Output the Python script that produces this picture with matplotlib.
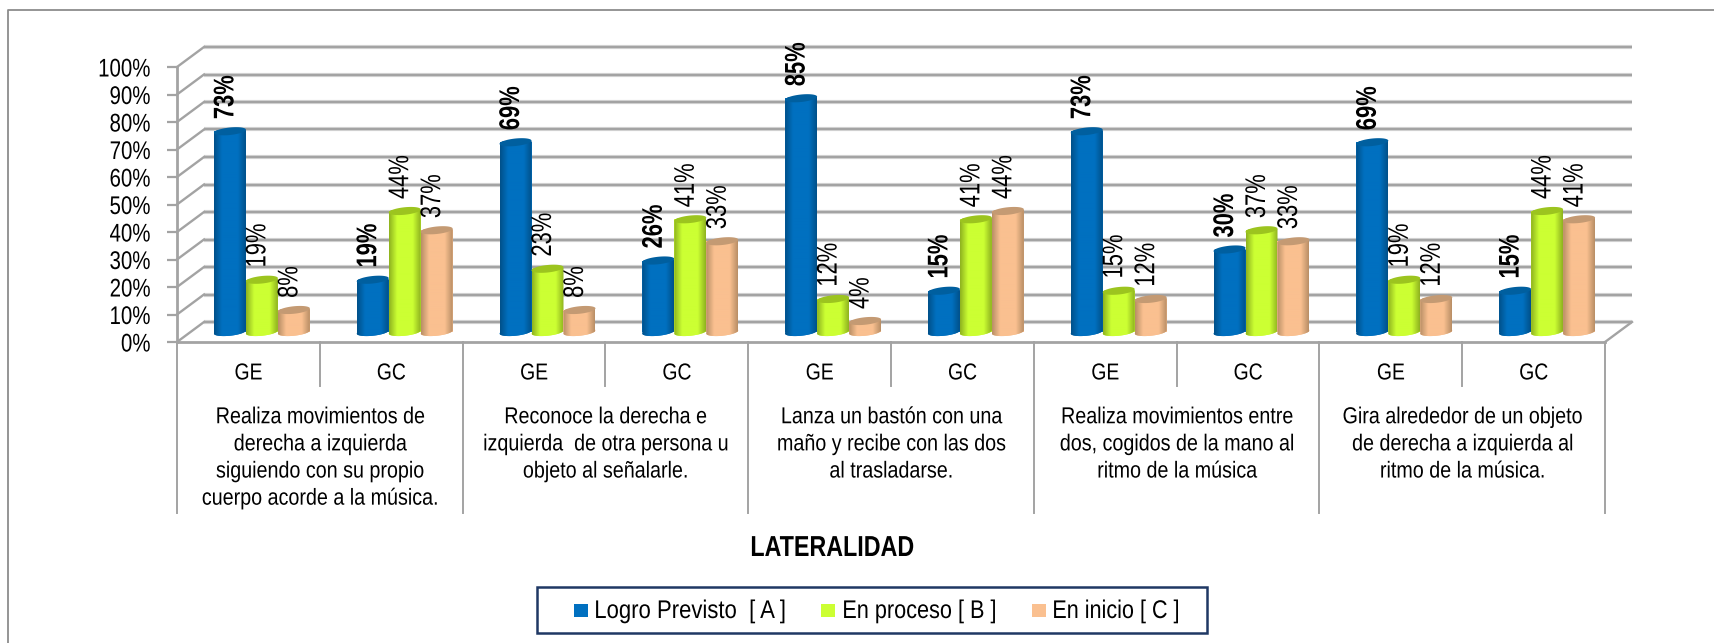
import numpy as np
import matplotlib
matplotlib.use("Agg")
import matplotlib.pyplot as plt
from matplotlib.patches import Rectangle, Polygon
from matplotlib.lines import Line2D
from matplotlib.colors import LinearSegmentedColormap
from matplotlib.patheffects import AbstractPathEffect
from matplotlib.transforms import Affine2D

plt.rcParams['font.family'] = ['Liberation Sans', 'DejaVu Sans']

groups = ["GE", "GC"] * 5
categories = [
    "Realiza movimientos de\nderecha a izquierda\nsiguiendo con su propio\ncuerpo acorde a la música.",
    "Reconoce la derecha e\nizquierda  de otra persona u\nobjeto al señalarle.",
    "Lanza un bastón con una\nmaño y recibe con las dos\nal trasladarse.",
    "Realiza movimientos entre\ndos, cogidos de la mano al\nritmo de la música",
    "Gira alrededor de un objeto\nde derecha a izquierda al\nritmo de la música.",
]
logro = [73, 19, 69, 26, 85, 15, 73, 30, 69, 15]
proceso = [19, 44, 23, 41, 12, 41, 15, 37, 19, 44]
inicio = [8, 37, 8, 33, 4, 44, 12, 33, 12, 41]
series_names = ["Logro Previsto  [ A ]", "En proceso [ B ]", "En inicio [ C ]"]
series = [logro, proceso, inicio]
y_ticks = list(range(0, 101, 10))

colors = ["#0070C0", "#CCFF33", "#FAC090"]
dark = ["#00508A", "#8FB31F", "#B98F66"]
top = ["#005F9F", "#9CC41F", "#C49A73"]


class Squeeze(AbstractPathEffect):
    """Draws real text condensed along one direction (the reference font is narrow)."""

    def __init__(self, sx=1.0, sy=1.0, anchor="center"):
        super().__init__()
        self.sx, self.sy, self.anchor = sx, sy, anchor

    def draw_path(self, renderer, gc, tpath, affine, rgbFace=None):
        e = tpath.get_extents(affine)
        ax_ = {"right": e.x1, "left": e.x0}.get(self.anchor, (e.x0 + e.x1) / 2)
        ay_ = e.y0 if self.anchor == "bottom" else (e.y0 + e.y1) / 2
        new = affine + Affine2D().translate(-ax_, -ay_).scale(self.sx, self.sy).translate(ax_, ay_)
        renderer.draw_path(gc, tpath, new, rgbFace)


W, H = 1715, 643
fig = plt.figure(figsize=(W / 100, H / 100), dpi=100, facecolor="white")
fig.add_artist(Line2D([8 / W, 8 / W, 1], [0, 1 - 10 / H, 1 - 10 / H], transform=fig.transFigure,
                      color="#8C8C8C", lw=1.3))

L, R, T, B = 177, 1605, 67, 342
ax = fig.add_axes([L / W, 1 - B / H, (R - L) / W, (B - T) / H])
ax.set_xlim(0, 10)
ax.set_ylim(0, 100)
ax.patch.set_alpha(0)
for s in ax.spines.values():
    s.set_visible(False)

pxx = 10 / (R - L)
pxy = 100 / (B - T)
dx, dy = 27 * pxx, 20 * pxy
GRID = "#A3A3A3"

for t in y_ticks:
    ax.plot([dx, 10 + dx], [t + dy, t + dy], color="#DADADA", lw=3.0, clip_on=False, zorder=1, solid_capstyle="butt")
    ax.plot([dx, 10 + dx], [t + dy, t + dy], color=GRID, lw=1.7, clip_on=False, zorder=1.1, solid_capstyle="butt")
    ax.plot([0, dx], [t, t + dy], color=GRID, lw=1.7, clip_on=False, zorder=1.1)
ax.plot([0, 10], [0, 0], color=GRID, lw=2, clip_on=False, zorder=1.2)
ax.plot([10, 10 + dx], [0, dy], color=GRID, lw=1.7, clip_on=False, zorder=1.2)
ax.plot([0, 0], [0, 100], color=GRID, lw=2, clip_on=False, zorder=1.2)

bw = 0.224
cap_h = 7.5 * pxy
tilt = 1.6 * pxy
theta = np.linspace(0, 2 * np.pi, 60)
x0 = np.arange(10) + 0.5 + dx / 2
offsets = [-bw, 0, bw]


def ellipse(cx, cy):
    return np.c_[cx + bw / 2 * np.cos(theta), cy + cap_h / 2 * np.sin(theta) + tilt * np.cos(theta)]


for k, vals in enumerate(series):
    z = 3 + k * 0.01
    cmap = LinearSegmentedColormap.from_list("c", [dark[k], colors[k], colors[k], colors[k], dark[k]])
    bars = ax.bar(x0 + offsets[k], vals, bottom=dy / 2, width=bw, color=colors[k], lw=0, zorder=z, clip_on=False)
    for i, (b, v) in enumerate(zip(bars, vals)):
        cx = x0[i] + offsets[k]
        ax.add_patch(Polygon(ellipse(cx, dy / 2), closed=True, fc=colors[k], lw=0, zorder=z, clip_on=False))
        im = ax.imshow(np.linspace(0, 1, 64)[None, :], cmap=cmap, aspect="auto",
                       extent=(cx - bw / 2, cx + bw / 2, dy / 2 - cap_h, dy / 2 + v), zorder=z + 0.001, clip_on=True)
        body = np.r_[ellipse(cx, dy / 2 + v)[:30], ellipse(cx, dy / 2)[30:]]
        im.set_clip_path(Polygon(body, closed=True, transform=ax.transData, fc="none", lw=0))
        ax.add_patch(Polygon(ellipse(cx, dy / 2 + v), closed=True, fc=top[k], lw=0, zorder=z + 0.002, clip_on=False))
        ax.text(cx - 3.5 * pxx, dy / 2 + v + 4.3, f"{v}%", rotation=90, ha="center", va="bottom", fontsize=20.5,
                fontweight="bold" if k == 0 else "normal", color="black", zorder=10, clip_on=False,
                path_effects=[Squeeze(sy=0.77, anchor="bottom")])
ax.set_xlim(0, 10)
ax.set_ylim(0, 100)

ax.set_yticks(y_ticks, [f"{t}%" for t in y_ticks], fontsize=18.4)
ax.tick_params(axis="y", length=7.5, width=1.6, color=GRID, pad=11.5)
for lab in ax.get_yticklabels():
    lab.set_path_effects([Squeeze(sx=0.80, anchor="right")])
ax.set_xticks(np.arange(10) + 0.5, groups, fontsize=16.6)
ax.tick_params(axis="x", length=0, pad=14)
for lab in ax.get_xticklabels():
    lab.set_path_effects([Squeeze(sx=0.84)])

for i in range(11):
    ybot = -62 if i % 2 == 0 else -16
    ax.plot([i, i], [0, ybot], color=GRID, lw=1.4, clip_on=False, zorder=1.2)
for j, c in enumerate(categories):
    ax.text(2 * j + 1, -23.0, c, ha="center", va="top", fontsize=16.6, linespacing=1.23, clip_on=False,
            path_effects=[Squeeze(sx=0.855)])

fig.text(832 / W, 1 - 548 / H, "LATERALIDAD", ha="center", va="center", fontsize=20.8, fontweight="bold",
         path_effects=[Squeeze(sx=0.806)])

# legend box
fig.add_artist(Rectangle((537 / W, 1 - 633 / H), 670 / W, 46 / H, transform=fig.transFigure,
                         fc="white", ec="#1F3864", lw=1.8))
swatch_x = [574, 821, 1032]
text_x = [594, 842, 1052]
text_sq = [0.865, 0.848, 0.845]
for c, n, sx_, tx_, q in zip(colors, series_names, swatch_x, text_x, text_sq):
    fig.add_artist(Rectangle((sx_ / W, 1 - 617 / H), 14 / W, 13 / H, transform=fig.transFigure, fc=c, ec="none"))
    fig.text(tx_ / W, 1 - 611 / H, n, ha="left", va="center", fontsize=18.4,
             path_effects=[Squeeze(sx=q, anchor="left")])

fig.savefig("out.png", dpi=100)
